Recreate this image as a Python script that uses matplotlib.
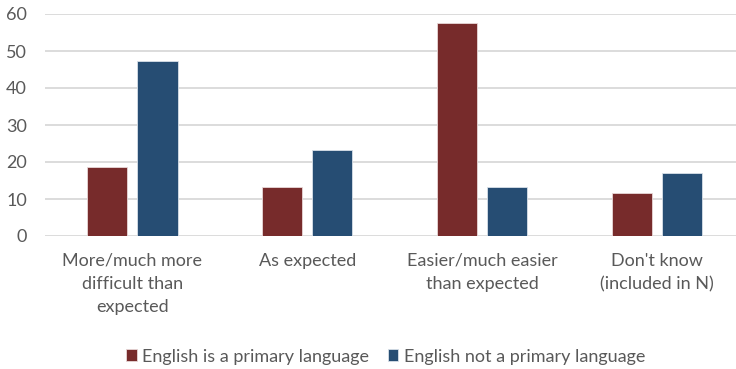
import matplotlib
matplotlib.use("Agg")
import matplotlib.pyplot as plt
import numpy as np

categories = ["More/much more\ndifficult than\nexpected", "As expected",
              "Easier/much easier\nthan expected", "Don't know\n(included in N)"]
primary = [18.6, 13.2, 57.5, 11.5]
not_primary = [47.4, 23.2, 13.3, 16.9]
series_names = ["English is a primary language", "English not a primary language"]

red = "#772B2B"
blue = "#264D73"
text_col = "#595959"

plt.rcParams["font.family"] = ["Lato", "DejaVu Sans"]

fig = plt.figure(figsize=(7.36, 3.69), dpi=100)
ax = fig.add_axes([45 / 736, 1 - 236 / 369, (736 - 45) / 736, 222 / 369])

x = np.arange(len(categories))
w = 0.229
off = 0.143
ax.bar(x - off, primary, w, color=red, edgecolor="#E8D8D8", linewidth=0.6,
       label=series_names[0], zorder=3)
ax.bar(x + off, not_primary, w, color=blue, edgecolor="#D8E0E8", linewidth=0.6,
       label=series_names[1], zorder=3)

ax.set_ylim(0, 60)
ax.set_xlim(-0.5, 3.45)
ax.set_yticks(range(0, 61, 10))
ax.yaxis.grid(True, color="#D9D9D9", linewidth=1.3, zorder=0)
ax.set_xticks(x)
ax.set_xticklabels(categories, fontsize=13, color=text_col, linespacing=1.55)
ax.tick_params(axis="y", labelsize=13, labelcolor=text_col, length=0, pad=13)
ax.tick_params(axis="x", length=0, pad=12)
for s in ax.spines.values():
    s.set_visible(False)

fig.legend(loc="lower center", bbox_to_anchor=(0.524, -0.032), ncol=2, frameon=False,
           fontsize=13, labelcolor=text_col, handlelength=0.6, handleheight=0.6,
           handletextpad=0.3, columnspacing=1.0)

fig.savefig("out.png", dpi=100)
